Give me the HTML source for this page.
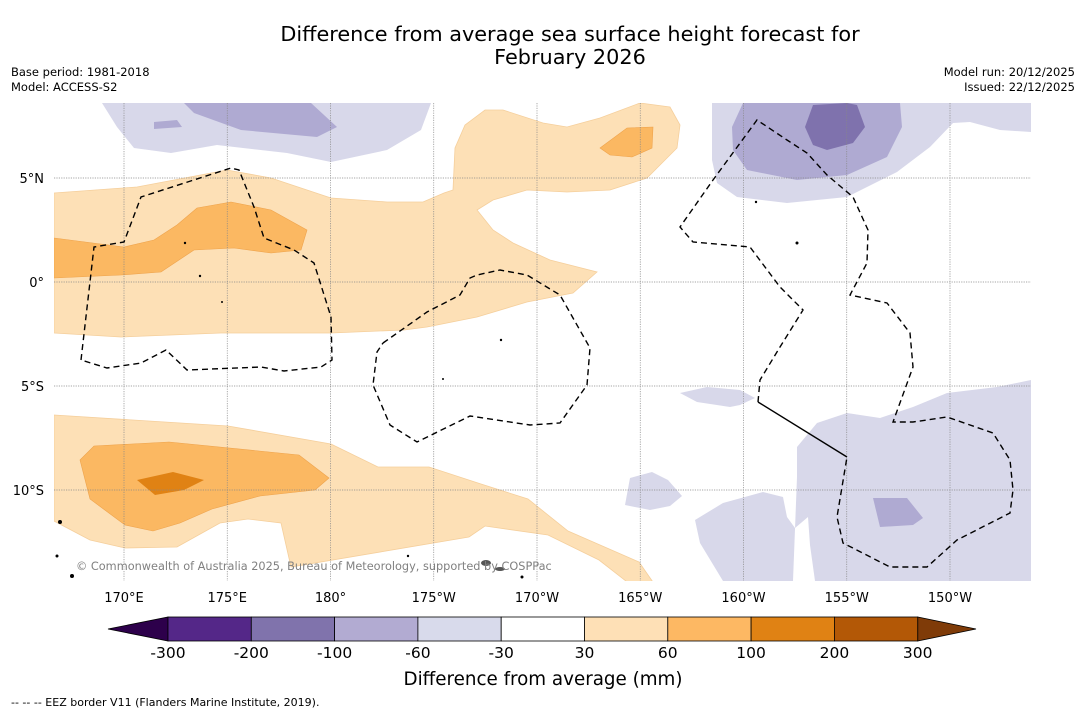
<!DOCTYPE html>
<html><head><meta charset="utf-8">
<style>
body{margin:0;background:#fff;width:1085px;height:713px;overflow:hidden;font-family:"DejaVu Sans","Liberation Sans",sans-serif;}
svg text{font-family:"DejaVu Sans","Liberation Sans",sans-serif;}
</style></head>
<body>
<svg id="chart" width="1085" height="713" viewBox="0 0 1085 713" xmlns="http://www.w3.org/2000/svg">
<text x="570" y="41" font-size="20.8" text-anchor="middle" fill="#000">Difference from average sea surface height forecast for</text>
<text x="570" y="64" font-size="20.8" text-anchor="middle" fill="#000">February 2026</text>
<text x="11" y="76" font-size="11.5">Base period: 1981-2018</text>
<text x="11" y="91" font-size="11.5">Model: ACCESS-S2</text>
<text x="1075" y="76" font-size="11.5" text-anchor="end">Model run: 20/12/2025</text>
<text x="1075" y="91" font-size="11.5" text-anchor="end">Issued: 22/12/2025</text>

<defs><clipPath id="mapclip"><rect x="54" y="103" width="977" height="478"/></clipPath></defs>
<g clip-path="url(#mapclip)">
 <polygon fill="#d8d8ea" points="102,103 431,103 421,130 387,150 331,162 287,153 217,145 171,153 134,148 117,127"/>
 <polygon fill="#afaad2" points="184,103 311,103 337,127 317,137 241,130 194,113"/>
 <polygon fill="#afaad2" points="154,122 177,120 182,127 154,129"/>
 <polygon fill="#d8d8ea" points="712,103 1031,103 1031,132 1000,130 970,122 953,123 930,147 897,172 847,197 787,203 737,197 717,183 712,160"/>
 <polygon fill="#afaad2" points="743,103 900,103 902,127 887,157 847,175 797,180 747,170 733,150 732,127"/>
 <polygon fill="#7f72ad" points="813,105 847,103 857,105 865,127 853,143 827,150 813,145 805,127"/>
 <polygon fill="#d8d8ea" points="797,447 817,423 847,413 880,418 913,407 947,393 997,387 1031,380 1031,581 815,581 810,545 808,517 795,528 787,517 783,497 763,492 723,503 695,520 700,543 723,581 793,581 797,477"/>
 <polygon fill="#afaad2" points="873,498 907,498 923,518 913,525 880,527"/>
 <polygon fill="#d8d8ea" points="680,393 707,387 740,390 755,398 740,405 730,407 697,402"/>
 <polygon fill="#d8d8ea" points="630,478 652,472 668,480 682,496 670,506 650,510 625,505"/>
 <polygon fill="#fde0b6" stroke="#f5cf9c" stroke-width="0.8" points="54,193 137,187 227,170 271,178 331,198 387,202 423,202 444,193 453,190 455,148 465,125 485,110 503,110 543,123 567,127 600,118 640,103 670,107 680,125 677,148 647,178 610,190 567,192 527,190 493,200 477,210 493,230 513,243 550,260 597,272 573,293 527,302 477,317 427,327 404,330 331,333 221,333 121,337 54,333"/>
 <polygon fill="#fbb862" stroke="#eea34c" stroke-width="0.6" points="54,238 124,247 154,240 177,225 197,208 231,202 271,210 307,230 301,250 271,253 234,248 194,250 161,272 121,275 54,278"/>
 <polygon fill="#fbb862" stroke="#eea34c" stroke-width="0.6" points="600,148 627,128 653,127 652,148 632,157 610,155"/>
 <polygon fill="#fde0b6" stroke="#f5cf9c" stroke-width="0.8" points="54,415 228,426 331,444 378,467 429,467 481,484 528,499 568,531 639,562 655,585 631,585 599,560 548,535 485,526 469,537 291,567 281,523 248,519 220,523 177,547 125,548 90,540 54,521"/>
 <polygon fill="#fbb862" stroke="#eea34c" stroke-width="0.6" points="80,460 94,446 169,442 299,455 329,478 315,490 260,496 212,509 180,523 153,531 125,525 90,499"/>
 <polygon fill="#e08214" points="137,480 173,472 204,480 184,490 155,495"/>
 <g id="grid" stroke="#888" stroke-width="0.7" stroke-dasharray="1.2,1.2"></g>
 <g fill="none" stroke="#000" stroke-width="1.4" stroke-dasharray="6,4">
  <polyline points="81,360 94,247 124,242 141,197 231,168 239,170 254,207 264,238 294,250 314,263 331,317 332,360 321,367 284,371 261,367 187,370 166,350 141,363 107,368 81,360"/>
  <polyline points="383,343 427,312 460,295 470,278 477,275 500,270 527,275 560,295 590,348 587,385 560,423 530,425 470,416 417,442 390,425 373,385 377,352 383,343"/>
  <polyline points="758,402 760,380 780,347 803,310 780,287 750,247 693,242 680,227 713,180 757,120 787,140 807,153 827,175 853,197 868,230 867,263 850,295 887,303 910,333 913,367 893,422 913,422 947,417 993,433 1010,460 1013,490 1010,513 957,540 927,567 890,567 843,543 837,517 847,457"/>
  <polyline stroke-dasharray="none" points="758,402 847,457"/>
 </g>
 <g fill="#000">
  <circle cx="60" cy="522" r="2"/><circle cx="72" cy="576" r="2"/><circle cx="57" cy="556" r="1.5"/>
  <ellipse cx="486" cy="563" rx="5" ry="3" fill="#555"/><ellipse cx="500" cy="569" rx="5" ry="2" fill="#555"/>
  <circle cx="797" cy="243" r="1.5"/><circle cx="756" cy="202" r="1.2"/><circle cx="185" cy="243" r="1.2"/>
  <circle cx="200" cy="276" r="1.2"/><circle cx="222" cy="302" r="1"/><circle cx="501" cy="340" r="1.2"/>
  <circle cx="443" cy="379" r="1"/><circle cx="522" cy="577" r="1.5"/><circle cx="408" cy="556" r="1.2"/>
 </g>
</g>
<text x="76" y="570" font-size="11.3" fill="#808080">© Commonwealth of Australia 2025, Bureau of Meteorology, supported by COSPPac</text>
<g id="axes"></g>
<g id="colorbar"></g>
<text x="543" y="685" font-size="18.3" text-anchor="middle">Difference from average (mm)</text>
<text x="11" y="706" font-size="11">--  --  -- EEZ border V11 (Flanders Marine Institute, 2019).</text>
</svg>
<script>
const lonTicks=[170,175,180,185,190,195,200,205,210];
const lonLabels=["170°E","175°E","180°","175°W","170°W","165°W","160°W","155°W","150°W"];
const latTicks=[5,0,-5,-10];
const latLabels=["5°N","0°","5°S","10°S"];
const levels=[-300,-200,-100,-60,-30,30,60,100,200,300];
const levelColors=["#542788","#8073ac","#b2abd2","#d8daeb","#ffffff","#fee0b6","#fdb863","#e08214","#b35806"];
const underColor="#2d004b";
const overColor="#7f3b08";
const NS="http://www.w3.org/2000/svg";
function xLon(l){return 124+(l-170)*20.65;}
function yLat(l){return 282-l*20.8;}
function mk(t,a){const e=document.createElementNS(NS,t);for(const k in a)e.setAttribute(k,a[k]);return e;}
const grid=document.getElementById('grid');
const axes=document.getElementById('axes');
lonTicks.forEach((l,i)=>{
 const ln=mk('line',{x1:xLon(l),x2:xLon(l),y1:103,y2:581});
 
 
 grid.appendChild(ln);
 const t=mk('text',{x:xLon(l),y:602,'font-size':13,'text-anchor':'middle'});
 
 
 t.textContent=lonLabels[i];axes.appendChild(t);
});
latTicks.forEach((l,i)=>{
 const ln=mk('line',{x1:54,x2:1031,y1:yLat(l),y2:yLat(l)});
 
 
 grid.appendChild(ln);
 const t=mk('text',{x:44,y:yLat(l)+5,'font-size':13,'text-anchor':'end'});
 
 
 t.textContent=latLabels[i];axes.appendChild(t);
});
const cb=document.getElementById('colorbar');
const cbX0=168,cbW=83.3,cbY=617,cbH=24;
function xLevel(i){return cbX0+i*cbW;}
const tl=mk('polygon',{points:`${xLevel(0)},${cbY} ${xLevel(0)},${cbY+cbH} 108,${cbY+cbH/2}`,fill:underColor,stroke:'#000','stroke-width':0.8});


cb.appendChild(tl);
const last=levels.length-1;
const tr=mk('polygon',{points:`${xLevel(last)},${cbY} ${xLevel(last)},${cbY+cbH} 976,${cbY+cbH/2}`,fill:overColor,stroke:'#000','stroke-width':0.8});


cb.appendChild(tr);
levelColors.forEach((c,i)=>{
 const r=mk('rect',{x:xLevel(i),y:cbY,width:cbW,height:cbH,fill:c,stroke:'#000','stroke-width':0.8});
 
 
 cb.appendChild(r);
});
levels.forEach((v,i)=>{
 const t=mk('text',{x:xLevel(i),y:658,'font-size':15.5,'text-anchor':'middle'});
 
 
 t.textContent=v;cb.appendChild(t);
});
</script>
</body></html>
